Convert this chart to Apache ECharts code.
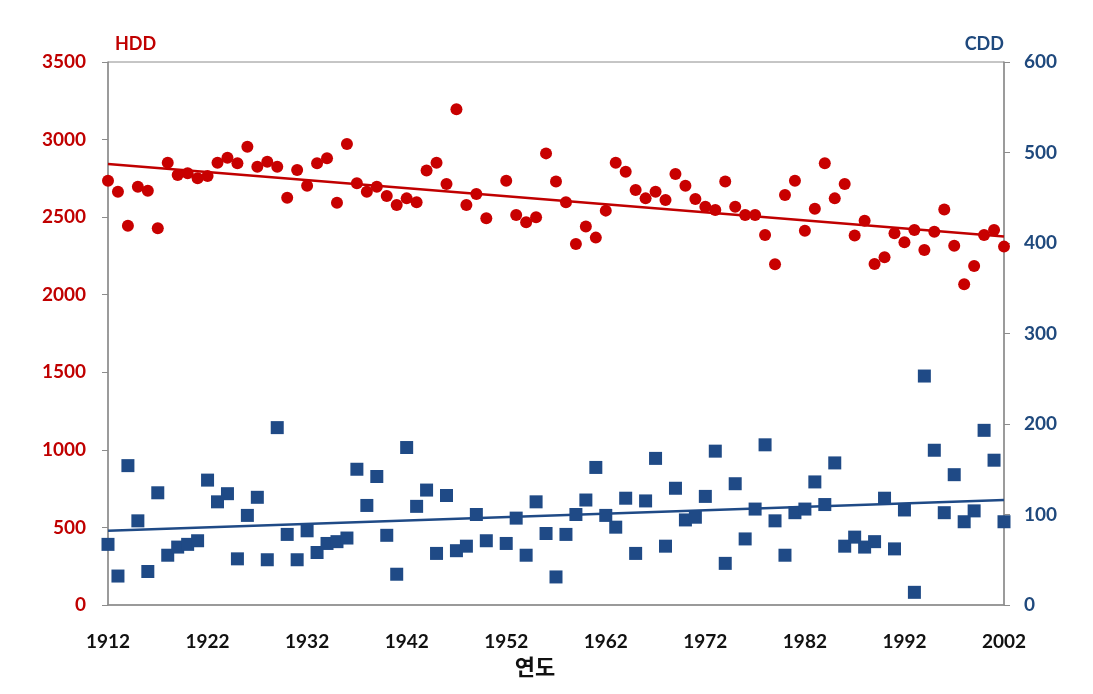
<!DOCTYPE html>
<html>
<head>
<meta charset="utf-8">
<script src="https://cdn.jsdelivr.net/npm/echarts@6/dist/echarts.min.js"></script>
<style>
html,body{margin:0;padding:0;background:#fff;}
#chart{width:1093px;height:694px;}
</style>
</head>
<body>
<div id="chart"></div>
<script>
// Years 1912-2002 (1951 missing)
const years = [];
for (let y = 1912; y <= 2002; y++) years.push(y);

const hdd = [2735,2664,2445,2696,2670,2428,2851,2772,2783,2750,
             2765,2851,2883,2847,2954,2825,2857,2825,2625,2804,
             2703,2847,2879,2593,2971,2718,2664,2696,2636,2578,
             2621,2596,2800,2851,2714,3195,2578,2649,2493,null,
             2735,2514,2467,2499,2911,2729,2596,2327,2439,2368,
             2542,2851,2793,2675,2621,2664,2610,2778,2703,2617,
             2567,2546,2729,2567,2514,2514,2385,2196,2643,2735,
             2413,2554,2847,2621,2714,2381,2477,2198,2241,2396,
             2338,2417,2288,2406,2550,2316,2067,2185,2385,2417,
             2310];

const cdd = [67,32,154,93,37,124,55,64,67,71,
             138,114,123,51,99,119,50,196,78,50,
             82,58,68,70,74,150,110,142,77,34,
             174,109,127,57,121,60,65,100,71,null,
             68,96,55,114,79,31,78,100,116,152,
             99,86,118,57,115,162,65,129,94,97,
             120,170,46,134,73,106,177,93,55,102,
             106,136,111,157,65,75,64,70,118,62,
             105,14,253,171,102,144,92,104,193,160,
             92];

const trendYears = [1912, 2002];
const hddTrend = [2843, 2376];
const cddTrend = [82, 116];

const xTicks = [1912,1922,1932,1942,1952,1962,1972,1982,1992,2002];

const RED = '#C00000';
const NAVY = '#1F4A86';
const NAVY_TXT = '#1F497D';
const AXIS = '#8c8c8c';
const FONT = 'Lato, "Open Sans", sans-serif';

const hddPts = years.map((y,i)=>[y,hdd[i]]).filter(p=>p[1]!==null);
const cddPts = years.map((y,i)=>[y,cdd[i]]).filter(p=>p[1]!==null);

const chart = echarts.init(document.getElementById('chart'));
chart.setOption({
  animation:false,
  backgroundColor:'#fff',
  grid:{left:108,right:89,top:62,bottom:89,show:true,borderColor:AXIS,borderWidth:1},
  xAxis:{
    type:'value', min:1912, max:2002, interval:10,
    name:'연도', nameLocation:'middle', nameGap:50,
    nameTextStyle:{fontFamily:'"Noto Sans CJK KR", sans-serif',fontWeight:'bold',fontSize:22,color:'#111',padding:[0,42,0,0]},
    axisLine:{show:true,lineStyle:{color:AXIS,width:1.5}},
    axisTick:{show:false},
    splitLine:{show:false},
    axisLabel:{margin:27,fontFamily:FONT,fontWeight:'bold',fontSize:19,color:'#111',
      formatter:v=>String(v), customValues: xTicks}
  },
  yAxis:[{
    type:'value', min:0, max:3500, interval:500, position:'left',
    name:'HDD', nameLocation:'end', nameGap:9,
    nameTextStyle:{fontFamily:FONT,fontWeight:'bold',fontSize:18,color:RED,align:'left',padding:[0,0,0,7]},
    axisLine:{show:true,lineStyle:{color:AXIS,width:1.5}},
    axisTick:{show:true,length:6,lineStyle:{color:AXIS}},
    splitLine:{show:false},
    axisLabel:{margin:22,fontFamily:FONT,fontWeight:'bold',fontSize:19,color:RED,formatter:v=>String(v)}
  },{
    type:'value', min:0, max:600, interval:100, position:'right',
    name:'CDD', nameLocation:'end', nameGap:9,
    nameTextStyle:{fontFamily:FONT,fontWeight:'bold',fontSize:18,color:NAVY_TXT,align:'right'},
    axisLine:{show:true,lineStyle:{color:AXIS,width:1.5}},
    axisTick:{show:true,length:6,lineStyle:{color:AXIS}},
    splitLine:{show:false},
    axisLabel:{margin:20,fontFamily:FONT,fontWeight:'bold',fontSize:19,color:NAVY_TXT,formatter:v=>String(v)}
  }],
  series:[
    {type:'line',yAxisIndex:0,data:trendYears.map((y,i)=>[y,hddTrend[i]]),
     symbol:'none',lineStyle:{color:RED,width:2.5},z:2},
    {type:'line',yAxisIndex:1,data:trendYears.map((y,i)=>[y,cddTrend[i]]),
     symbol:'none',lineStyle:{color:NAVY,width:2.5},z:2},
    {type:'scatter',yAxisIndex:0,data:hddPts,symbol:'circle',symbolSize:12,
     itemStyle:{color:'#C80000',opacity:1},z:3},
    {type:'scatter',yAxisIndex:1,data:cddPts,symbol:'rect',symbolSize:13,
     itemStyle:{color:NAVY,opacity:1},z:3}
  ]
});
</script>
</body>
</html>
